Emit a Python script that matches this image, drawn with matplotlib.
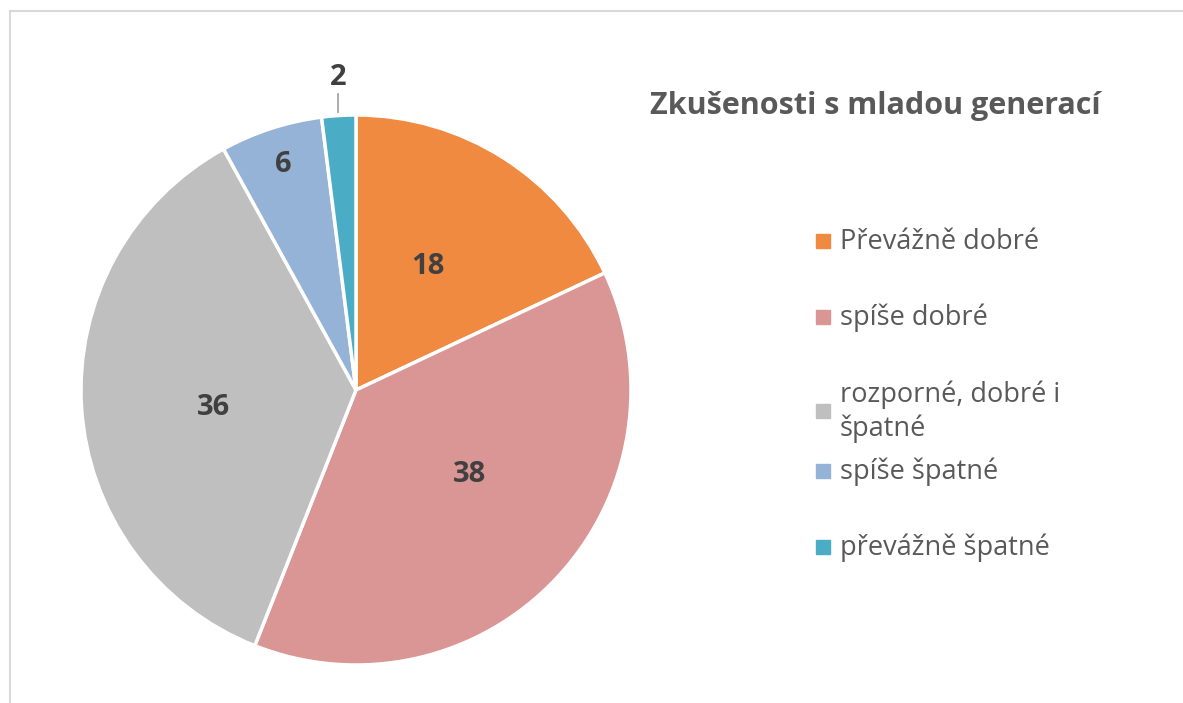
import numpy as np
import matplotlib.pyplot as plt
from matplotlib.patches import Rectangle
from matplotlib.lines import Line2D

plt.rcParams['font.family'] = ['Open Sans', 'DejaVu Sans']

categories = ['Převážně dobré', 'spíše dobré', 'rozporné, dobré i\nšpatné',
              'spíše špatné', 'převážně špatné']
values = [18, 38, 36, 6, 2]
colors = ['#F08A41', '#DA9694', '#BFBFBF', '#95B3D7', '#4BACC6']
title = 'Zkušenosti s mladou generací'

fig = plt.figure(figsize=(11.83, 7.03), dpi=100)

# pie centre ~ (356, 390) px, radius ~ 275 px
W, H = 1183, 703
cx, cy, r = 356, 390, 275
ax = fig.add_axes([(cx - r) / W, (H - cy - r) / H, 2 * r / W, 2 * r / H])
wedges, _ = ax.pie(values, colors=colors, startangle=90, counterclock=False,
                   radius=1.0, wedgeprops=dict(edgecolor='white', linewidth=2.5))
ax.set_xlim(-1, 1)
ax.set_ylim(-1, 1)
ax.set_aspect('equal')
ax.axis('off')

# data labels (excel "best fit" placement)
label_r = [0.53, 0.51, 0.52, 0.87, 1.15]
ang_off = [2.8, 7.5, 2.4, -0.4, -0.3]
cum = np.cumsum([0] + values[:-1])
total = sum(values)
for i, v in enumerate(values):
    ang = np.deg2rad(90 - (cum[i] + v / 2) / total * 360 + ang_off[i])
    x, y = label_r[i] * np.cos(ang), label_r[i] * np.sin(ang)
    ax.text(x, y - 0.011, str(v), ha='center', va='center', fontsize=21,
            fontweight='bold', color='#404040')
    if label_r[i] > 1:
        ax.plot([x, x], [1.01, 1.075], color='#A6A6A6', lw=1.3, clip_on=False)

# title
fig.text(875 / W, 1 - 106 / H, title, ha='center', va='center',
         fontsize=22, fontweight='bold', color='#595959')

# legend
leg_y = [241, 317, 411, 471, 547]
for i, lab in enumerate(categories):
    yy = 1 - leg_y[i] / H
    fig.patches.append(Rectangle((816 / W, yy - 7 / H), 14 / W, 14 / H,
                                 transform=fig.transFigure, color=colors[i]))
    fig.text(840 / W, yy - 1 / H, lab, ha='left', va='center', fontsize=19.5,
             color='#595959', linespacing=1.25)

# frame (top and left edges)
fig.lines.append(Line2D([10 / W, 10 / W], [0, 1 - 11 / H], transform=fig.transFigure,
                        color='#D9D9D9', lw=1.5))
fig.lines.append(Line2D([10 / W, 1], [1 - 11 / H, 1 - 11 / H], transform=fig.transFigure,
                        color='#D9D9D9', lw=1.5))

fig.savefig('out.png', dpi=100)
